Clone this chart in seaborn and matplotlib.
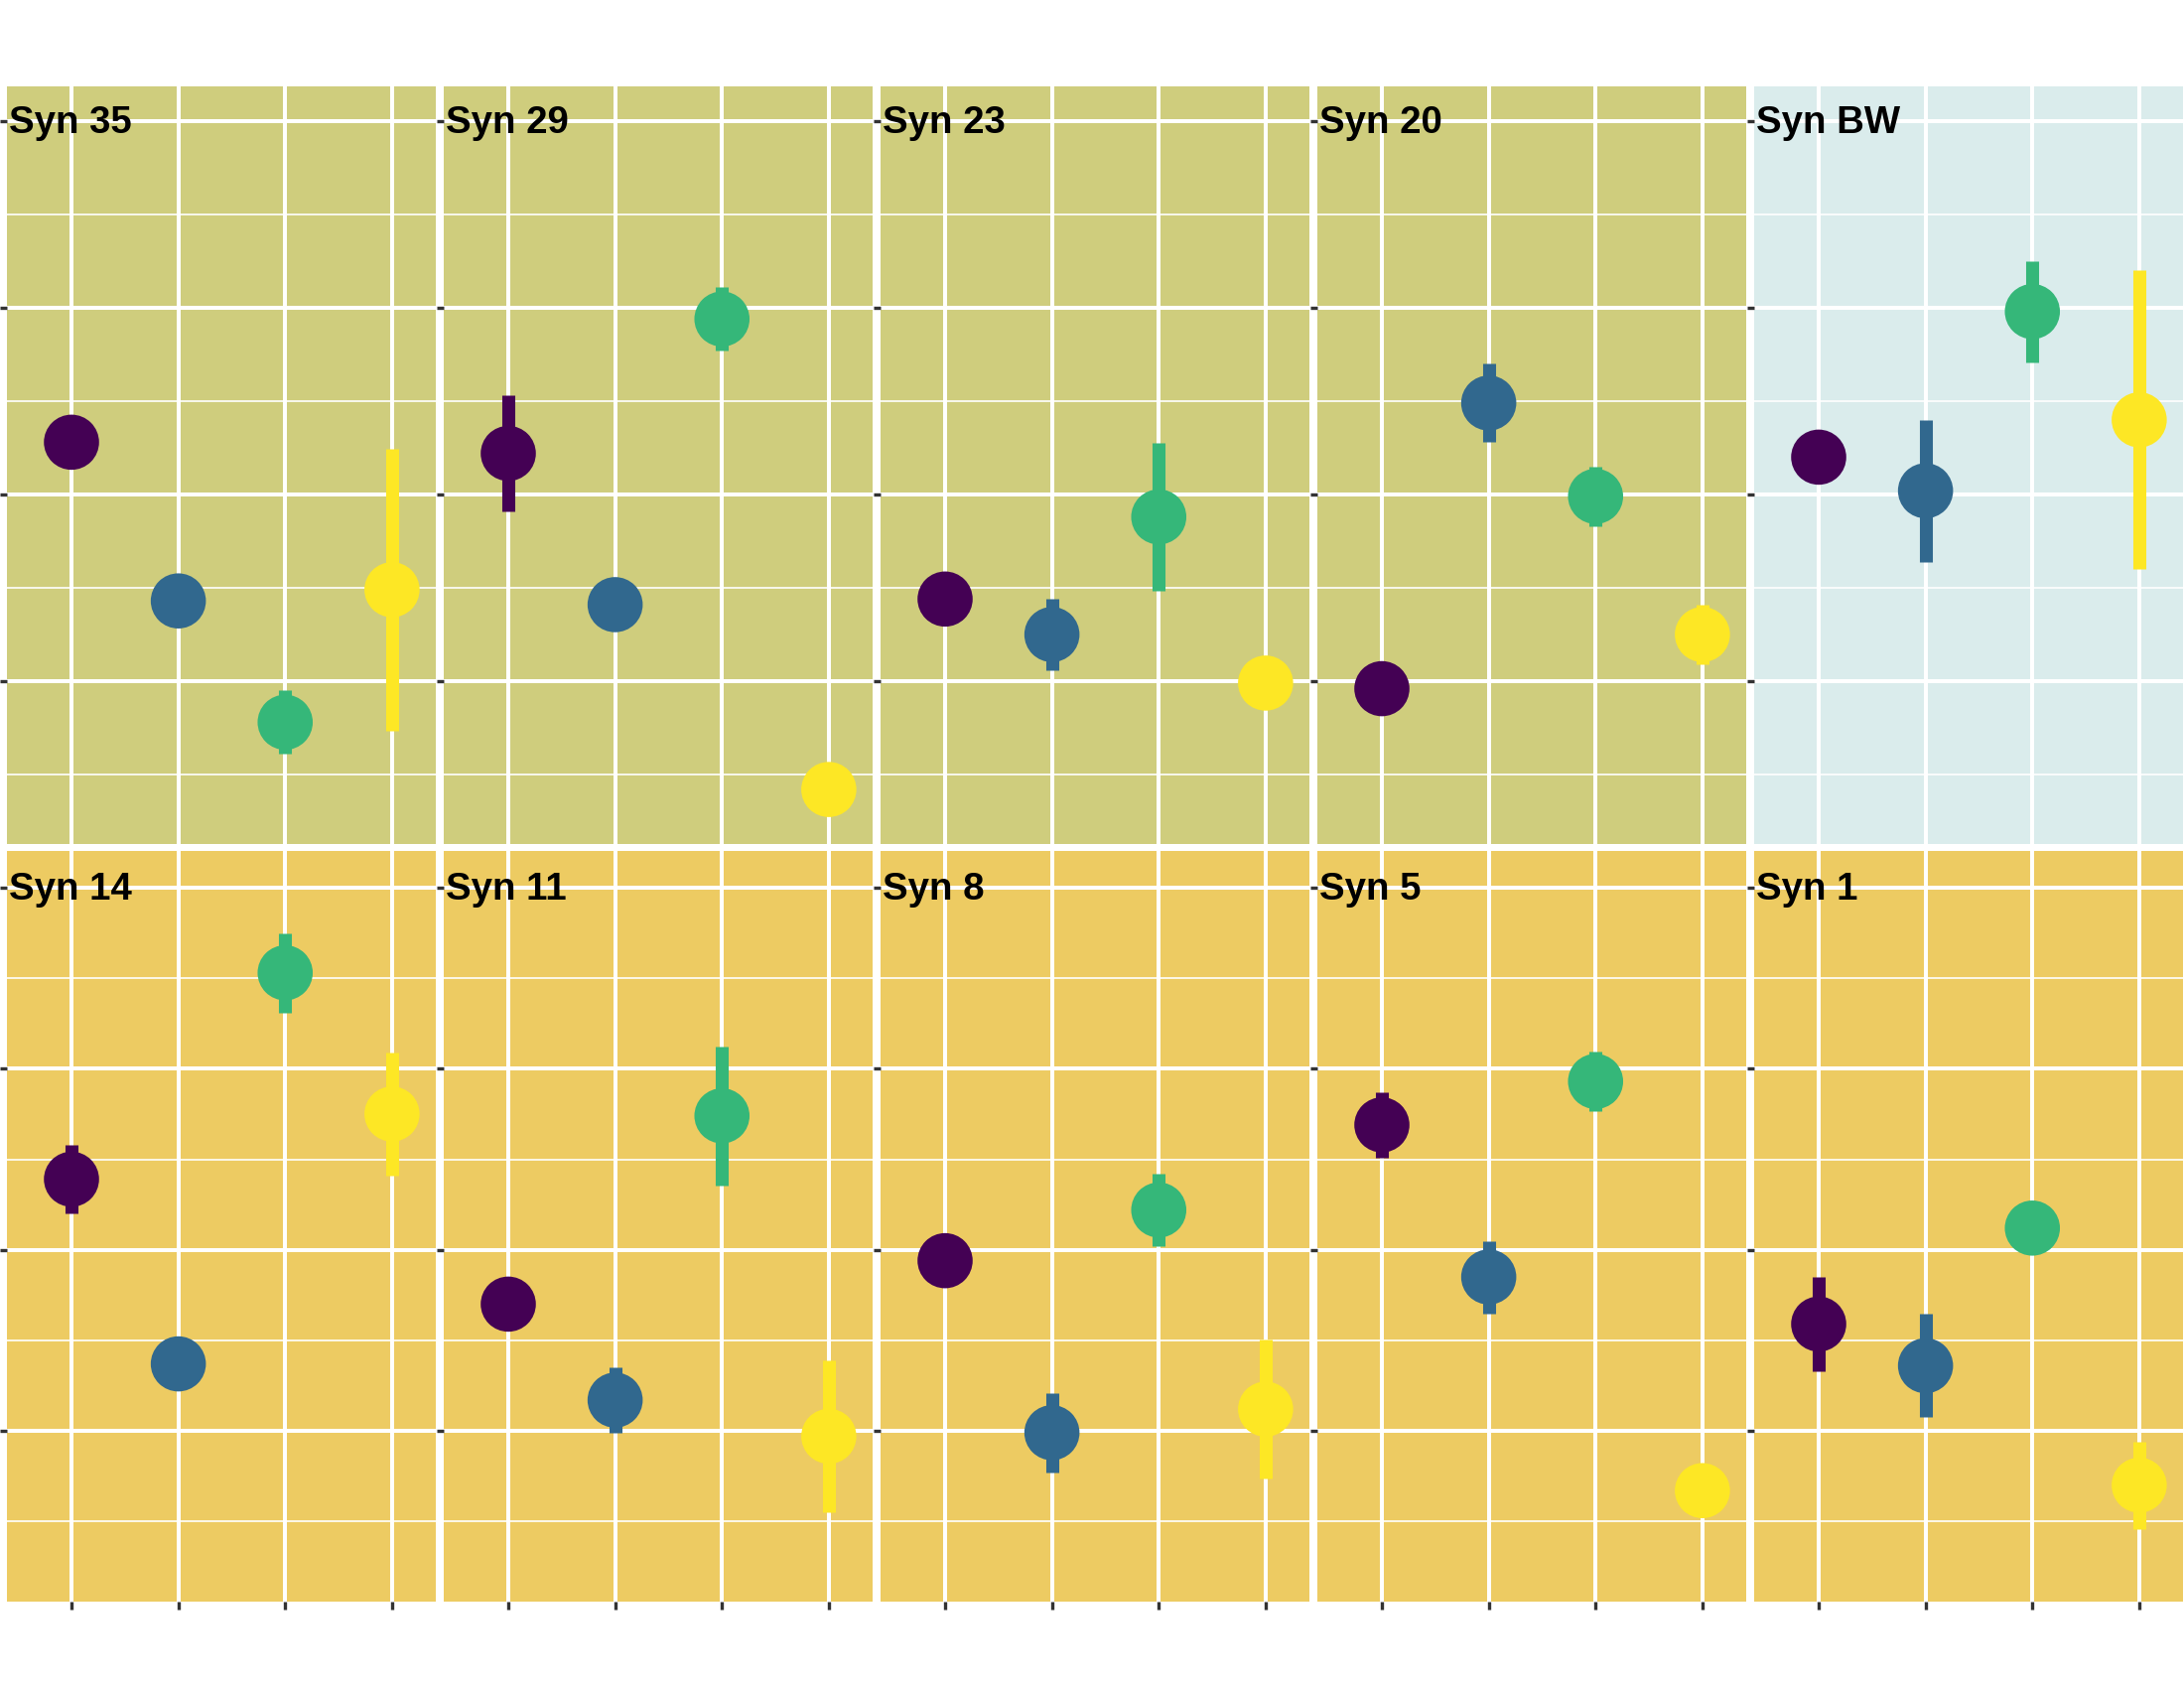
import numpy as np
import pandas as pd
import matplotlib
matplotlib.use("Agg")
import matplotlib.pyplot as plt
from matplotlib.ticker import MultipleLocator
import seaborn as sns

# --- DATA ---
panels = ["Syn 35", "Syn 29", "Syn 23", "Syn 20", "Syn BW",
          "Syn 14", "Syn 11", "Syn 8", "Syn 5", "Syn 1"]
groups = ["g1", "g2", "g3", "g4"]

mean_g1 = [2.28, 2.22, 1.44, 0.96, 2.20, 2.39, 1.70, 1.94, 2.69, 1.59]
mean_g2 = [1.43, 1.41, 1.25, 2.49, 2.02, 1.37, 1.17, 0.99, 1.85, 1.36]
mean_g3 = [0.78, 2.94, 1.88, 1.99, 2.98, 3.53, 2.74, 2.22, 2.93, 2.12]
mean_g4 = [1.49, 0.42, 0.99, 1.25, 2.40, 2.75, 0.97, 1.12, 0.67, 0.70]

err_g1 = [0.10, 0.31, 0.10, 0.10, 0.10, 0.19, 0.10, 0.10, 0.18, 0.26]
err_g2 = [0.10, 0.10, 0.19, 0.21, 0.38, 0.10, 0.18, 0.22, 0.20, 0.285]
err_g3 = [0.17, 0.17, 0.395, 0.16, 0.27, 0.22, 0.385, 0.20, 0.165, 0.10]
err_g4 = [0.755, 0.10, 0.10, 0.16, 0.80, 0.34, 0.42, 0.385, 0.10, 0.24]

palette = ["#440154", "#31688E", "#35B779", "#FDE725"]
panel_bg = ["#CFCD7D"] * 4 + ["#DAECEC"] + ["#EDCB62"] * 5
row_ylim = [(0.128, 4.186), (0.057, 4.203)]

rows = []
for i, p in enumerate(panels):
    for j, (m, e) in enumerate(zip([mean_g1, mean_g2, mean_g3, mean_g4],
                                   [err_g1, err_g2, err_g3, err_g4])):
        rows.append({"panel": p, "group": groups[j], "pos": j + 1,
                     "mean": m[i], "err": e[i]})
df = pd.DataFrame(rows)

sns.set_theme(style="white")
plt.rcParams["font.family"] = ["Liberation Sans", "DejaVu Sans"]

W, H = 2200, 1700
fig = plt.figure(figsize=(11, 8.5), dpi=200)

row_px = [(87, 850), (857, 1613)]
for i, p in enumerate(panels):
    r, c = divmod(i, 5)
    x0 = 7 + c * 440
    y_top, y_bot = row_px[r]
    ax = fig.add_axes([x0 / W, 1 - y_bot / H, 432 / W, (y_bot - y_top) / H])
    ax.set_facecolor(panel_bg[i])
    for s in ax.spines.values():
        s.set_visible(False)

    sub = df[df["panel"] == p]
    # error bars first, points on top
    ax.vlines(sub["pos"], sub["mean"] - sub["err"], sub["mean"] + sub["err"],
              colors=[palette[k] for k in range(4)], linewidth=4.7,
              capstyle="butt", zorder=3)
    sns.scatterplot(data=sub, x="pos", y="mean", hue="group",
                    palette=palette, s=400, linewidth=0, legend=False,
                    ax=ax, zorder=4)

    ax.set_xlim(0.396, 4.41)
    ax.set_ylim(*row_ylim[r])
    ax.set_xticks([1, 2, 3, 4])
    ax.yaxis.set_major_locator(MultipleLocator(1))
    ax.yaxis.set_minor_locator(MultipleLocator(0.5))
    ax.set_xticklabels([])
    ax.set_yticklabels([])
    ax.set_xlabel("")
    ax.set_ylabel("")
    ax.grid(which="major", color="white", linewidth=1.45, zorder=0)
    ax.grid(which="minor", axis="y", color="white", linewidth=0.6, zorder=0)
    ax.set_axisbelow(True)
    ax.tick_params(axis="y", which="major", left=True, length=2.6,
                   width=1.2, color="#333333", direction="out", pad=0)
    ax.tick_params(axis="y", which="minor", left=False)
    ax.tick_params(axis="x", which="major", bottom=(r == 1), length=2.9,
                   width=1.2, color="#333333", direction="out", pad=0)

    ax.annotate(p, xy=(0, 4), xycoords=("axes fraction", "data"),
                xytext=(0.8, -4.2), textcoords="offset points",
                ha="left", va="baseline", fontsize=13.8,
                fontweight="bold", color="black", zorder=5)

fig.savefig("out.png", dpi=200, facecolor="white")
